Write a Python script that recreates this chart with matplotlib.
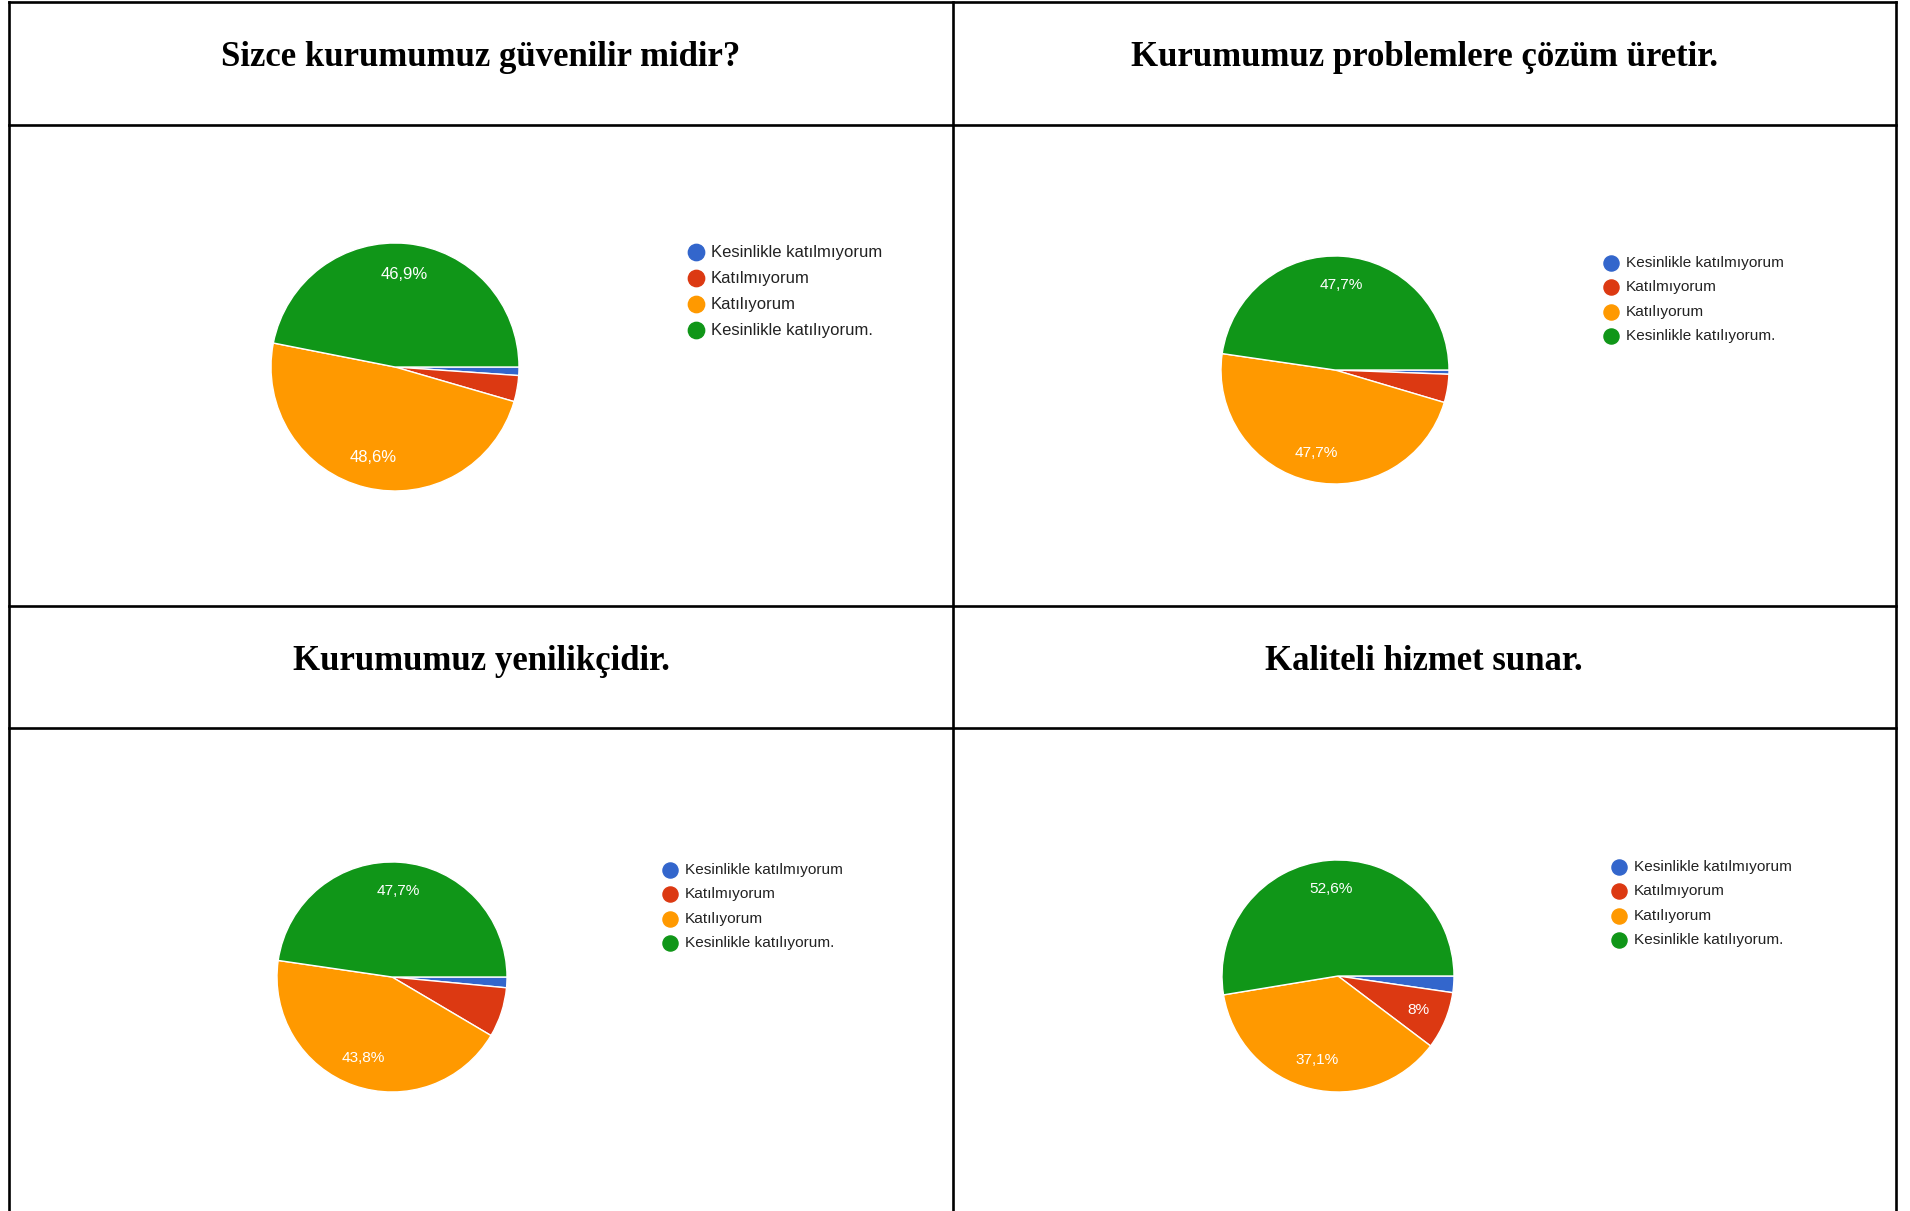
import numpy as np
import matplotlib
matplotlib.use('Agg')
import matplotlib.pyplot as plt

# Survey answers (percent), order: blue, red, orange, green
answers = ['Kesinlikle katılmıyorum', 'Katılmıyorum', 'Katılıyorum',
           'Kesinlikle katılıyorum.']
colors = ['#3366cc', '#dc3912', '#ff9900', '#109618']

titles = ['Sizce kurumumuz güvenilir midir?',
          'Kurumumuz problemlere çözüm üretir.',
          'Kurumumuz yenilikçidir.',
          'Kaliteli hizmet sunar.']
guvenilir = [1.1, 3.4, 48.6, 46.9]
cozum = [0.6, 4.0, 47.7, 47.7]
yenilikci = [1.5, 7.0, 43.8, 47.7]
kalite = [2.3, 8.0, 37.1, 52.6]
series = [guvenilir, cozum, yenilikci, kalite]

W, H = 1910, 1211
fig = plt.figure(figsize=(W / 100, H / 100), dpi=100)

# background axes in pixel coordinates for the table grid and titles
bg = fig.add_axes([0, 0, 1, 1])
bg.set_xlim(0, W)
bg.set_ylim(H, 0)
bg.axis('off')

lw = 1.9
xl, xm, xr = 9, 953, 1896
for y in [2, 125, 606, 728]:
    bg.plot([xl, xr], [y, y], color='black', lw=lw, solid_capstyle='projecting')
for x in [xl, xm, xr]:
    bg.plot([x, x], [2, H], color='black', lw=lw, solid_capstyle='projecting')

title_pos = [(481, 57), (1424, 57), (481, 662), (1424, 662)]
for t, (tx, ty) in zip(titles, title_pos):
    bg.text(tx, ty, t, ha='center', va='center', fontsize=25,
            fontweight='bold', family='Liberation Serif')

# pie centre/radius, legend origin, legend scale (pixels)
pies = [(395, 367, 124), (1335, 370, 114), (392, 977, 115), (1338, 976, 116)]
legends = [(696, 252, 26.0, 12.0), (1611, 263, 24.4, 11.1),
           (670, 870, 24.4, 11.1), (1619, 867, 24.4, 11.1)]


def fmt(v):
    s = ('%.1f' % v).rstrip('0').rstrip('.')
    return s.replace('.', ',') + '%'


for vals, (cx, cy, r), (lx, ly, dy, fs) in zip(series, pies, legends):
    ax = fig.add_axes([(cx - r) / W, (H - cy - r) / H, 2 * r / W, 2 * r / H])
    ax.pie(vals, colors=colors, startangle=0, counterclock=False,
           wedgeprops=dict(edgecolor='white', linewidth=1.0))
    start = 0.0
    for v in vals:
        mid = np.deg2rad(-(start + v / 2) * 3.6)
        start += v
        if v >= 7.5:
            ax.text(0.75 * np.cos(mid), 0.75 * np.sin(mid), fmt(v),
                    ha='center', va='center', color='white', fontsize=fs,
                    family='Liberation Sans')
    ax.set_xlim(-1.0, 1.0)
    ax.set_ylim(-1.0, 1.0)
    ax.set_aspect('equal')
    ax.axis('off')

    for i, (lab, c) in enumerate(zip(answers, colors)):
        bg.plot(lx, ly + i * dy, 'o', color=c, markersize=fs * 0.98)
        bg.text(lx + 15, ly + i * dy, lab, va='center', ha='left',
                fontsize=fs, color='#222222', family='Liberation Sans')

fig.savefig('out.png', dpi=100, facecolor='white')
